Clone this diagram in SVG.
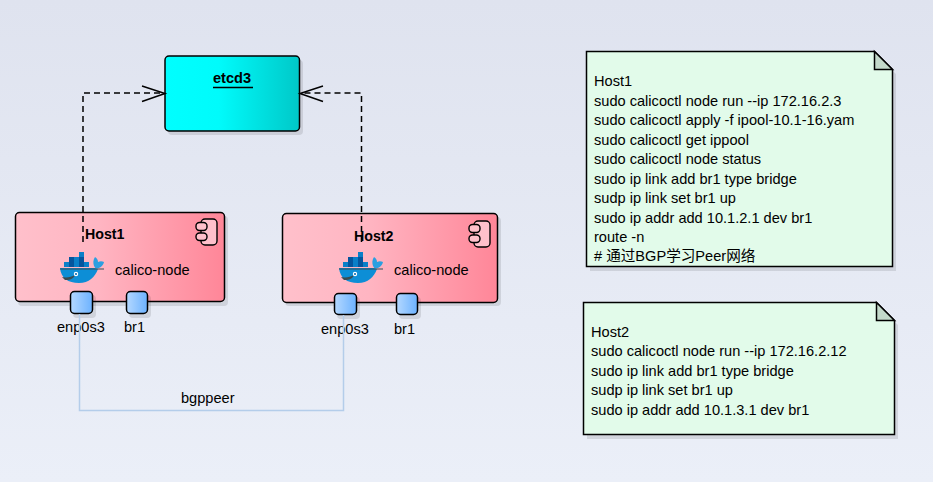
<svg xmlns="http://www.w3.org/2000/svg" width="933" height="482" viewBox="0 0 933 482">
<style>
text{font-family:"Liberation Sans",Arial,"Noto Sans CJK SC",sans-serif;font-size:14.6px;fill:#000}
.b{font-weight:bold;font-size:14.2px}
.box{stroke:#000;stroke-width:1.5}
.sh{fill:#000;opacity:.1}
.dash{fill:none;stroke:#000;stroke-width:1.5;stroke-dasharray:6 4}
.arr{fill:none;stroke:#000;stroke-width:1.5}
.note{fill:#e2fbea;stroke:#000;stroke-width:1.5}
.fold{fill:#c3d9ca;stroke:#000;stroke-width:1.5}
.port{fill:url(#pg);stroke:#000;stroke-width:1.5}
</style>
<defs>
<linearGradient id="bg" x1="0" y1="0" x2="0" y2="1"><stop offset="0" stop-color="#dfe3ef"/><stop offset="1" stop-color="#ebeff8"/></linearGradient>
<linearGradient id="cy"><stop offset="0" stop-color="#00ffff"/><stop offset=".4" stop-color="#00fbfb"/><stop offset="1" stop-color="#00c8c8"/></linearGradient>
<linearGradient id="pk"><stop offset="0" stop-color="#ffc0cb"/><stop offset=".4" stop-color="#ffb5c2"/><stop offset="1" stop-color="#ff8698"/></linearGradient>
<linearGradient id="pg"><stop offset="0" stop-color="#b4d8ff"/><stop offset="1" stop-color="#6cb2ff"/></linearGradient>
<g id="whale">
<path d="M0 16H36C35 17 37 17 38 17C35 25 29 31 19 31C8 31 1 26 0 16Z" fill="#0d8ed6"/>
<path d="M34 14C33 11 33 8 35 5C37 6 38 8 38 10C40 9 42 9 44 10C43 14 40 16 36 17Z" fill="#2b9fe0"/>
<path d="M2 25C7 26 11 25 15 23C13 28 8 28 5 28Z" fill="#394d54"/>
<path d="M0 17H44" stroke="#394d54" stroke-width="1"/>
<g fill="#0a7fc8"><rect x="19" y="0" width="5" height="5"/><rect x="14" y="5" width="5" height="5"/><rect x="4" y="10" width="5" height="5"/><rect x="14" y="10" width="5" height="5"/><rect x="24" y="10" width="5" height="5"/></g>
<g fill="#05559d"><rect x="9" y="5" width="5" height="5"/><rect x="19" y="5" width="5" height="5"/><rect x="9" y="10" width="5" height="5"/><rect x="19" y="10" width="5" height="5"/></g>
<circle cx="16" cy="22" r="2.200" fill="#fff"/><circle cx="16" cy="22" r="1.100" fill="#0a6fb5"/>
</g>
<g id="comp">
<rect x="5" y="0" width="16" height="26" rx="4" fill="#ffc0cb" stroke="#000" stroke-width="1.400"/>
<rect x="0" y="3.500" width="11" height="8" rx="3.500" fill="#ffc0cb" stroke="#000" stroke-width="1.400"/>
<rect x="0" y="14" width="11" height="7.500" rx="3.500" fill="#ffc0cb" stroke="#000" stroke-width="1.400"/>
</g>
</defs>
<rect width="933" height="482" fill="url(#bg)"/>

<g id="etcd3">
<rect class="sh" x="168" y="60" width="135" height="75" rx="4"/>
<rect class="box" x="165" y="56" width="134.500" height="75" rx="4" fill="url(#cy)"/>
<text class="b" x="213" y="83" style="font-size:14.600px">etcd3</text>
<path d="M213 87.500H253" stroke="#000" stroke-width="1.500"/>
</g>

<g id="host1">
<rect class="sh" x="18" y="216" width="210" height="90" rx="4"/>
<rect class="box" x="15.500" y="212.500" width="209" height="89" rx="4" fill="url(#pk)"/>
<text class="b" x="85" y="239">Host1</text>
<use href="#comp" x="196" y="219"/>
<use href="#whale" x="60" y="252"/>
<text x="115" y="275">calico-node</text>
</g>
<g id="host1-enp0s3">
<rect class="sh" x="73" y="295" width="23" height="23" rx="4"/>
<rect class="port" x="70.500" y="291.500" width="22" height="22" rx="4"/>
<text x="57" y="332">enp0s3</text>
</g>
<g id="host1-br1">
<rect class="sh" x="129" y="295" width="22" height="23" rx="4"/>
<rect class="port" x="126.500" y="291.500" width="21" height="22" rx="4"/>
<text x="124" y="332">br1</text>
</g>

<g id="host2">
<rect class="sh" x="285" y="217" width="216" height="89" rx="4"/>
<rect class="box" x="282.500" y="213.500" width="215" height="89" rx="4" fill="url(#pk)"/>
<text class="b" x="354" y="241">Host2</text>
<use href="#comp" x="469" y="221"/>
<use href="#whale" x="339" y="252"/>
<text x="394" y="275">calico-node</text>
</g>
<g id="host2-enp0s3">
<rect class="sh" x="337" y="297" width="23" height="22" rx="4"/>
<rect class="port" x="334.500" y="293.500" width="22" height="21" rx="4"/>
<text x="321" y="334">enp0s3</text>
</g>
<g id="host2-br1">
<rect class="sh" x="399" y="297" width="22" height="22" rx="4"/>
<rect class="port" x="396.500" y="293.500" width="21" height="21" rx="4"/>
<text x="394" y="334">br1</text>
</g>

<g id="note1">
<path class="sh" d="M590 55H876L896 74V271H590Z"/>
<path class="note" d="M586.500 51.500H874.500L892.500 69.500V266.500H586.500Z"/>
<path class="fold" d="M874.500 51.500L892.500 69.500H874.500Z"/>
<text x="594" y="86">Host1</text>
<text x="594" y="106">sudo calicoctl node run --ip 172.16.2.3</text>
<text x="594" y="125">sudo calicoctl apply -f ipool-10.1-16.yam</text>
<text x="594" y="145">sudo calicoctl get ippool</text>
<text x="594" y="164">sudo calicoctl node status</text>
<text x="594" y="184">sudo ip link add br1 type bridge</text>
<text x="594" y="203">sudp ip link set br1 up</text>
<text x="594" y="223">sudo ip addr add 10.1.2.1 dev br1</text>
<text x="594" y="242">route -n</text>
<text x="594" y="261"># 通过BGP学习Peer网络</text>
</g>

<g id="note2">
<path class="sh" d="M587 306H878L898 325V439H587Z"/>
<path class="note" d="M583.500 302.500H876.500L894.500 320.500V434.500H583.500Z"/>
<path class="fold" d="M876.500 302.500L894.500 320.500H876.500Z"/>
<text x="591" y="337">Host2</text>
<text x="591" y="356">sudo calicoctl node run --ip 172.16.2.12</text>
<text x="591" y="376">sudo ip link add br1 type bridge</text>
<text x="591" y="395">sudp ip link set br1 up</text>
<text x="591" y="415">sudo ip addr add 10.1.3.1 dev br1</text>
</g>

<g id="connectors">
<path class="dash" d="M83 242V93H164"/>
<path class="arr" d="M142 86L165 93.500L142 101.500"/>
<path class="dash" d="M361.500 242V93H301"/>
<path class="arr" d="M323 86L300 93.500L323 101.500"/>
<path d="M79.500 314V410.500H343.500V315" fill="none" stroke="#b4cdea" stroke-width="1.500"/>
<text x="181" y="403">bgppeer</text>
</g>
</svg>
